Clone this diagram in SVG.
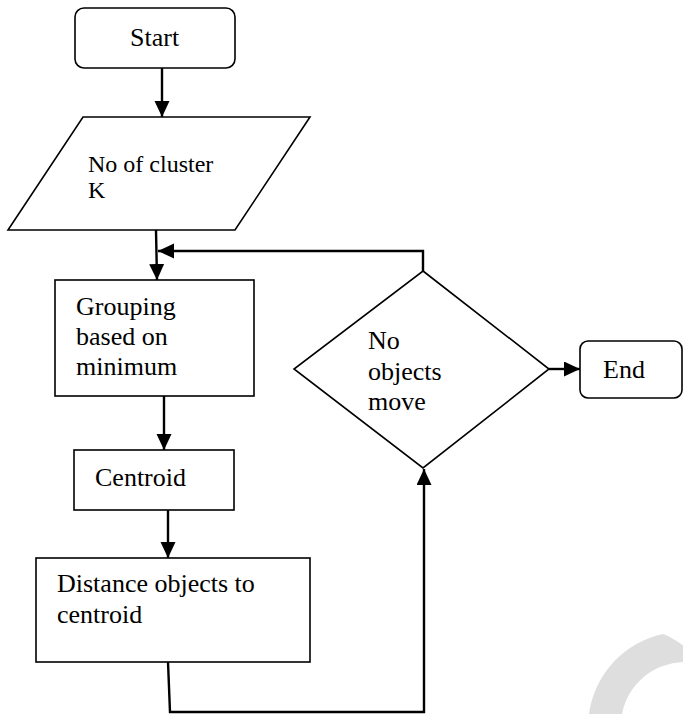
<svg xmlns="http://www.w3.org/2000/svg" width="683" height="714" viewBox="0 0 683 714">
<style>
.shape{fill:#fff;stroke:#000;stroke-width:1.6}
.conn{fill:none;stroke:#000;stroke-width:2.4}
.t{font-family:"Liberation Serif","Times New Roman",serif;font-size:26px;fill:#000}
.ts{font-family:"Liberation Serif","Times New Roman",serif;font-size:24px;fill:#000}
</style>
<defs>
<marker id="ah" markerUnits="userSpaceOnUse" markerWidth="17" markerHeight="16" refX="16" refY="7.5" orient="auto">
<path d="M0,0 L16,7.5 L0,15 z" fill="#000"/>
</marker>
</defs>
<rect width="683" height="714" fill="#fff"/>
<path d="M589 714 A95 95 0 0 1 663 634 Q670 636 690 650 L690 662 L684 662 A64 64 0 0 0 622 714 Z" fill="#dedede"/>
<g id="connectors">
<line class="conn" x1="162" y1="68" x2="162" y2="117" marker-end="url(#ah)"/>
<line class="conn" x1="156" y1="230" x2="157" y2="280" marker-end="url(#ah)"/>
<polyline class="conn" points="423,271 423,251 158,251" marker-end="url(#ah)"/>
<line class="conn" x1="164" y1="396" x2="164" y2="450" marker-end="url(#ah)"/>
<line class="conn" x1="168" y1="510" x2="168" y2="558" marker-end="url(#ah)"/>
<polyline class="conn" points="168,662 170,712 424,712 424,469" marker-end="url(#ah)"/>
<line class="conn" x1="549" y1="369" x2="580" y2="369" marker-end="url(#ah)"/>
</g>
<g id="start">
<rect class="shape" x="75" y="8" width="160" height="60" rx="9"/>
<text class="t" x="130" y="46">Start</text>
</g>
<g id="input">
<polygon class="shape" points="83,117 310,117 235,230 8,230"/>
<text class="ts" x="88" y="172">No of cluster</text>
<text class="ts" x="88" y="198">K</text>
</g>
<g id="grouping">
<rect class="shape" x="55" y="280" width="199" height="116"/>
<text class="t" x="76" y="315">Grouping</text>
<text class="t" x="76" y="345">based on</text>
<text class="t" x="76" y="375">minimum</text>
</g>
<g id="centroid">
<rect class="shape" x="74" y="450" width="160" height="60"/>
<text class="t" x="95" y="486">Centroid</text>
</g>
<g id="distance">
<rect class="shape" x="36" y="558" width="274" height="104"/>
<text class="t" x="57" y="592">Distance objects to</text>
<text class="t" x="57" y="623">centroid</text>
</g>
<g id="decision">
<polygon class="shape" points="423,271 549,369 423,468 294,369"/>
<text class="t" x="368" y="349">No</text>
<text class="t" x="368" y="380">objects</text>
<text class="t" x="368" y="410">move</text>
</g>
<g id="end">
<rect class="shape" x="580" y="341" width="102" height="57" rx="8"/>
<text class="t" x="603" y="378">End</text>
</g>
</svg>
